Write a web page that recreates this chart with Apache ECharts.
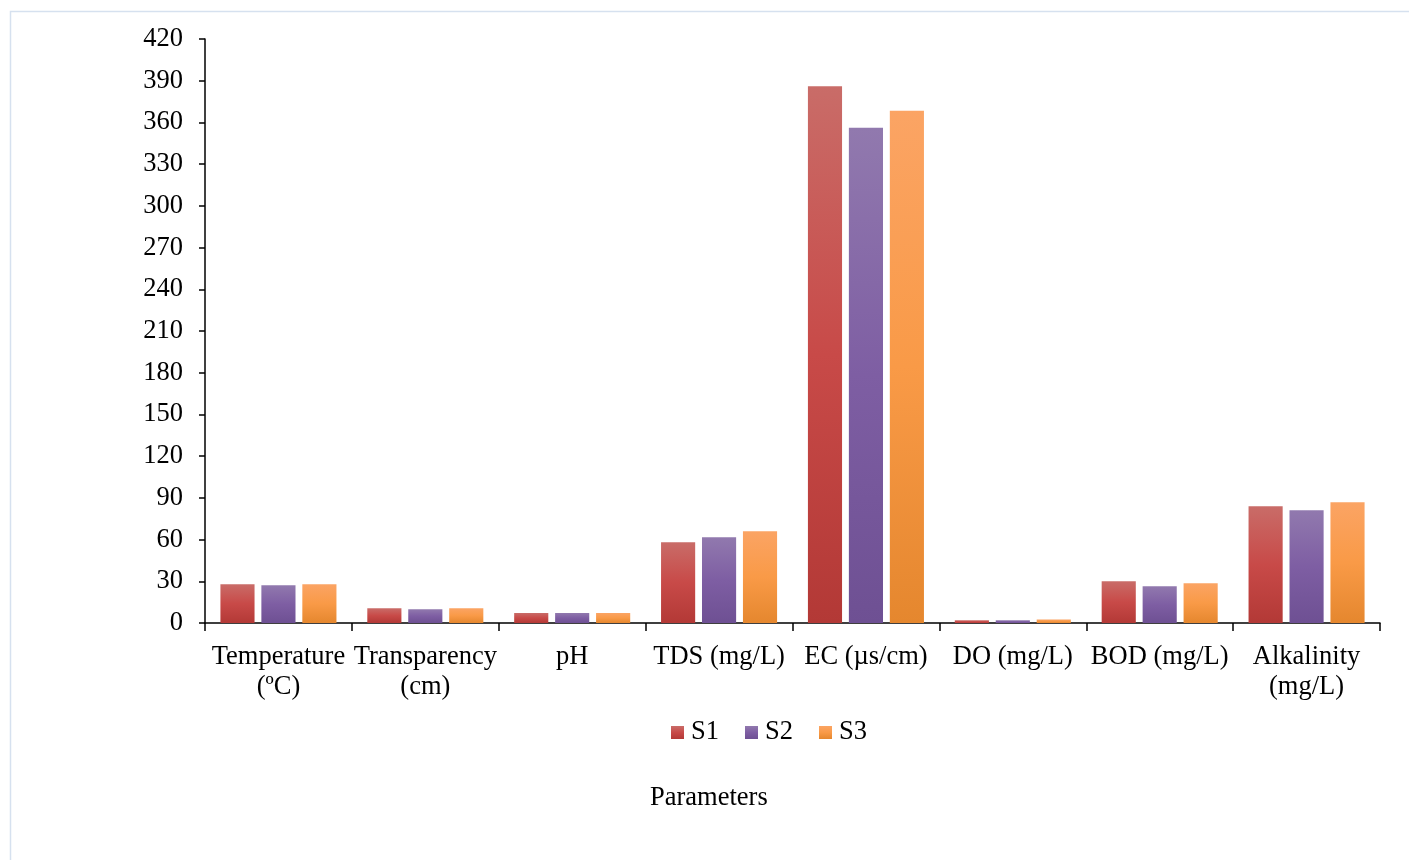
<!DOCTYPE html>
<html><head><meta charset="utf-8">
<script src="https://cdn.jsdelivr.net/npm/echarts@6/dist/echarts.min.js"></script>
<style>html,body{margin:0;padding:0;background:#fff}#c{width:1409px;height:860px}</style>
</head><body><div id="c"></div>
<script>
const categories = ['Temperature\n(ºC)', 'Transparency\n(cm)', 'pH', 'TDS (mg/L)', 'EC (µs/cm)', 'DO (mg/L)', 'BOD (mg/L)', 'Alkalinity\n(mg/L)'];
const s1 = [27.9, 10.6, 7.2, 58.1, 386.0, 1.9, 30.0, 84.0];
const s2 = [27.1, 9.9, 7.2, 61.7, 356.2, 1.9, 26.4, 81.1];
const s3 = [27.9, 10.6, 7.2, 66.0, 368.4, 2.6, 28.6, 86.9];
const seriesNames = ['S1', 'S2', 'S3'];

function grad(top, mid, bot) {
  return new echarts.graphic.LinearGradient(0, 0, 0, 1, [
    {offset: 0, color: top}, {offset: 0.5, color: mid}, {offset: 1, color: bot}
  ]);
}
const colors = [
  grad('#C96C68', '#C84A48', '#B33936'),
  grad('#9179AE', '#7E5EA3', '#6E5093'),
  grad('#FBA464', '#F99A47', '#E5872E')
];
const font = '"Liberation Serif", "Times New Roman", serif';
const FS = 26.5;
const chart = echarts.init(document.getElementById('c'));
chart.setOption({
  animation: false,
  textStyle: {fontFamily: font},
  graphic: [{
    type: 'rect', silent: true,
    shape: {x: 10.5, y: 11.5, width: 1420, height: 870},
    style: {fill: 'none', stroke: '#D6E1EF', lineWidth: 1.5}
  }],
  title: {
    text: 'Parameters', left: 645, top: 780,
    textStyle: {fontFamily: font, fontSize: FS, fontWeight: 'normal', color: '#000'}
  },
  legend: {
    data: seriesNames, left: 666, top: 714,
    itemWidth: 13, itemHeight: 13, itemGap: 26,
    icon: 'rect',
    textStyle: {fontFamily: font, fontSize: FS, color: '#000', padding: [0, 0, 0, 2]}
  },
  grid: {left: 205, right: 29, top: 39, bottom: 237, containLabel: false},
  xAxis: {
    type: 'category', data: categories,
    axisLine: {lineStyle: {color: '#000', width: 1.5}},
    axisTick: {show: true, alignWithLabel: false, length: 8, lineStyle: {color: '#000', width: 1.5}},
    axisLabel: {interval: 0, fontFamily: font, fontSize: FS, color: '#000', lineHeight: 30, margin: 19}
  },
  yAxis: {
    type: 'value', min: 0, max: 420, interval: 30,
    axisLine: {show: true, lineStyle: {color: '#000', width: 1.5}},
    axisTick: {show: true, length: 6, lineStyle: {color: '#000', width: 1.5}},
    splitLine: {show: false},
    axisLabel: {fontFamily: font, fontSize: FS, color: '#000', margin: 22}
  },
  series: [s1, s2, s3].map((d, i) => ({
    name: seriesNames[i], type: 'bar', data: d,
    barGap: '20%', barCategoryGap: '21%',
    itemStyle: {color: colors[i]}
  }))
});
</script></body></html>
